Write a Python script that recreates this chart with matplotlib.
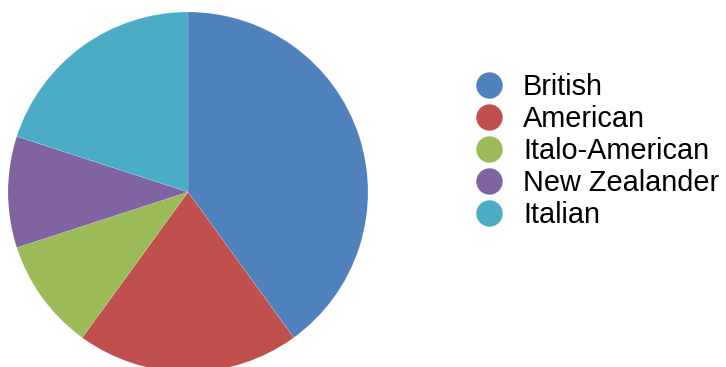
import matplotlib
matplotlib.use("Agg")
import matplotlib.pyplot as plt

plt.rcParams['font.family'] = ['Liberation Sans', 'DejaVu Sans']

categories = ["British", "American", "Italo-American", "New Zealander", "Italian"]
values = [4, 2, 1, 1, 2]
colors = ["#4F81BD", "#C0504D", "#9BBB59", "#8064A2", "#4BACC6"]

W, H = 726, 367
fig = plt.figure(figsize=(W / 100, H / 100), dpi=100)

# Pie: center at (188, 192) px from top-left, radius 180 px
cx, cy, r = 188, 192, 180
ax = fig.add_axes([(cx - r) / W, (H - cy - r) / H, 2 * r / W, 2 * r / H])
ax.pie(values, colors=colors, startangle=90, counterclock=False, radius=1,
       wedgeprops=dict(linewidth=0.3, edgecolor=(1, 1, 1, 0.3)))
ax.set_xlim(-1, 1)
ax.set_ylim(-1, 1)
ax.set_aspect('auto')
ax.axis('off')

# Legend drawn in pixel coordinates
lax = fig.add_axes([0, 0, 1, 1])
lax.set_xlim(0, W)
lax.set_ylim(H, 0)
lax.axis('off')
y0, step = 85, 32
for i, (lab, c) in enumerate(zip(categories, colors)):
    y = y0 + step * i
    lax.plot([489], [y], 'o', color=c, markersize=19, markeredgewidth=0)
    lax.text(523, y + 10, lab, fontsize=20.8, va='baseline', ha='left', color='black')

fig.savefig("out.png", dpi=100)
